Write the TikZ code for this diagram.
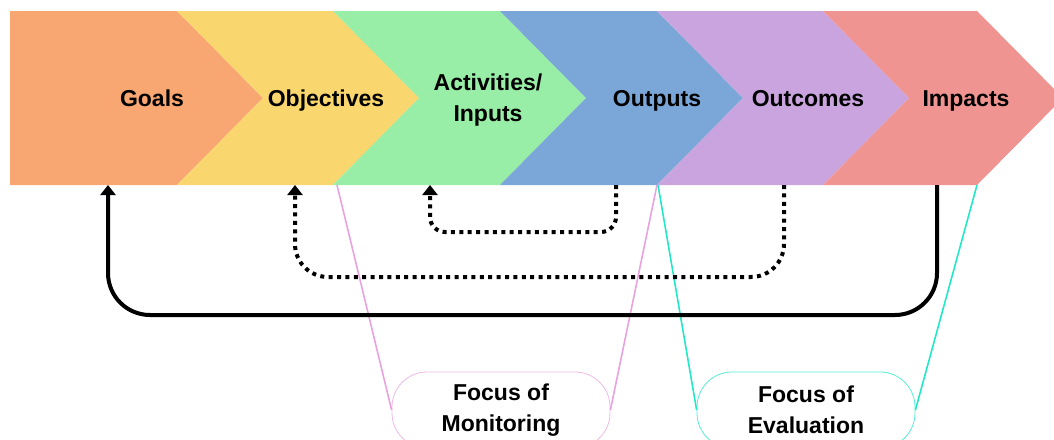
\documentclass[tikz,border=0pt]{standalone}
\usepackage{fontspec}
\setmainfont{Liberation Sans}
\usetikzlibrary{arrows.meta}
\definecolor{goalc}{RGB}{248,166,114}
\definecolor{objc}{RGB}{249,214,110}
\definecolor{actc}{RGB}{152,238,166}
\definecolor{outc}{RGB}{123,167,216}
\definecolor{outcc}{RGB}{202,164,222}
\definecolor{impc}{RGB}{240,148,146}
\definecolor{monpink}{RGB}{232,162,222}
\definecolor{evalteal}{RGB}{34,232,198}
\begin{document}
\begin{tikzpicture}[x=1pt,y=-1pt,>={Triangle[width=15pt,length=10pt]},
  lbl/.style={font=\fontsize{23}{31}\selectfont\bfseries,align=center},
  word/.style={lbl,anchor=base},
  fbline/.style={line width=4pt,->},
  fbdots/.style={fbline,dash pattern=on 4pt off 4.4pt},
  bubble/.style={lbl,draw,line width=0.8pt,rounded corners=35pt,
    minimum width=218pt,minimum height=76pt,inner sep=0pt},
  focus/.style={line width=1.6pt}]
\useasboundingbox (0,0) rectangle (1054,439);
\clip (0,0) rectangle (1054,439);

\fill[goalc] (10,11) -- (177,11) -- (263,98) -- (177,185) -- (10,185) -- cycle;
\foreach \a/\b/\c in {177/333/objc,333/500/actc,500/657/outc,657/823/outcc,823/977/impc}
  \fill[\c] (\a,11) -- (\b,11) -- (\b+86,98) -- (\b,185) -- (\a,185) -- (\a+86,98) -- cycle;

\node[word] (goals) at (152,106) {Goals};
\node[word] (obj) at (326,106) {Objectives};
\node[lbl] (act) at (488,100) {Activities/\\Inputs};
\node[word] (outp) at (657,106) {Outputs};
\node[word] (outcm) at (808,106) {Outcomes};
\node[word] (imp) at (966,106) {Impacts};

\coordinate (goalb) at (108,185);
\coordinate (objb) at (295,185);
\coordinate (actb) at (430,185);
\coordinate (outpb) at (616,185);
\coordinate (outcmb) at (784,185);
\coordinate (impb) at (937,185);

\node[bubble,draw=monpink!75,fill=white] (mon) at (501,410) {Focus of\\Monitoring};
\node[bubble,draw=evalteal!75,fill=white] (eva) at (806,410) {Focus of\\Evaluation};

\coordinate (m1) at (337,185);
\coordinate (m2) at (657,185);
\coordinate (e1) at (658,185);
\coordinate (e2) at (977,185);
\draw[focus,monpink] (m1) -- (mon.west);
\draw[focus,monpink] (m2) -- (mon.east);
\draw[focus,evalteal] (e1) -- (eva.west);
\draw[focus,evalteal] (e2) -- (eva.east);

\draw[fbline,rounded corners=42pt] (impb) -- ++(0,130) -| (goalb);
\draw[fbdots,rounded corners=33pt] (outcmb) -- ++(0,92) -| (objb);
\draw[fbdots,rounded corners=15pt] (outpb) -- ++(0,47) -| (actb);
\end{tikzpicture}
\end{document}
